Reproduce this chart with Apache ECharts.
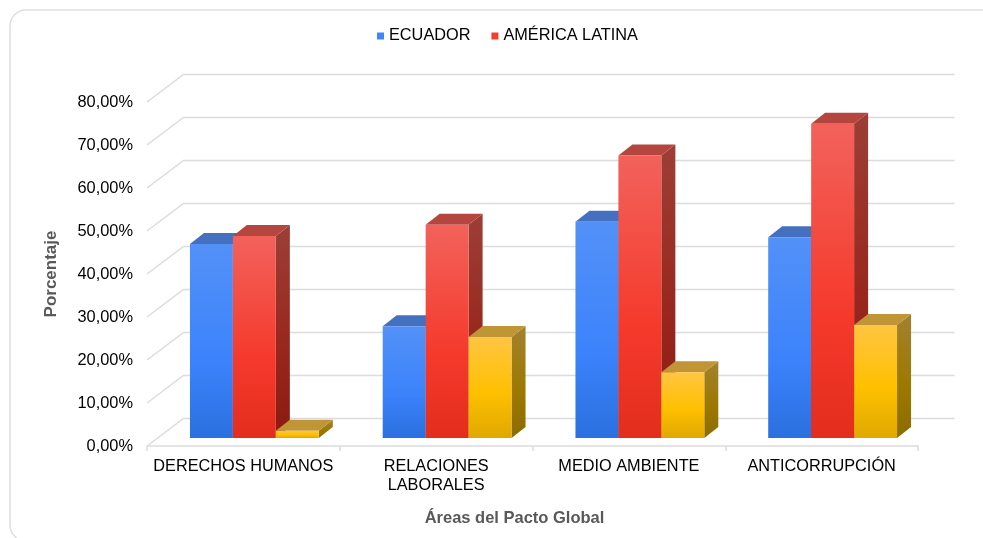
<!DOCTYPE html>
<html>
<head>
<meta charset="utf-8">
<style>html,body{margin:0;padding:0;background:#fff}#c{width:983px;height:538px}</style>
<script src="https://cdn.jsdelivr.net/npm/echarts@6/dist/echarts.min.js"></script>
</head>
<body>
<div id="c"></div>
<script>
const categories = ['DERECHOS HUMANOS', 'RELACIONES\nLABORALES', 'MEDIO AMBIENTE', 'ANTICORRUPCIÓN'];
const ecuador = [45.1, 26, 50.3, 46.7];
const americaLatina = [47, 49.6, 65.7, 73.1];
const tercera = [1.7, 23.5, 15.3, 26.3];
const yTicks = [0, 10, 20, 30, 40, 50, 60, 70, 80];

const WALL = [36.5, -27.5];  // depth of the chart floor
const SHIFT = [11, -8];      // bars stand inside the floor
const DEPTH = [14, -11];     // depth of each bar
const BAR_SHARE = 0.2228;

function lg(stops) {
  return {type: 'linear', x: 0, y: 0, x2: 0, y2: 1,
    colorStops: stops.map(c => ({offset: c[0], color: c[1]}))};
}
const skins = [
  {legend: '#3f86f7',
   front: lg([[0, '#5391f8'], [0.62, '#3b82fb'], [1, '#2a70df']]),
   top: '#4470bf', side: lg([[0, '#34599a'], [1, '#1f4a90']])},
  {legend: '#f43d30',
   front: lg([[0, '#f2625b'], [0.6, '#f53a2c'], [1, '#e32d1d']]),
   top: '#b4463f', side: lg([[0, '#9c3f36'], [0.6, '#98261c'], [1, '#8a1a12']])},
  {legend: '#ffc000',
   front: lg([[0, '#ffc542'], [0.55, '#ffc000'], [1, '#e0a800']]),
   top: '#bf9535', side: lg([[0, '#a3812e'], [0.6, '#9c7800'], [1, '#8c6c00']])}
];

function barRenderer(idx) {
  return function (params, api) {
    const band = api.size([1, 0])[0];
    const w = band * BAR_SHARE;
    const p = api.coord([api.value(0), api.value(1)]);
    const b = api.coord([api.value(0), 0]);
    const x0 = p[0] + SHIFT[0] + (idx - 1.5) * w;
    const x1 = x0 + w;
    const yT = p[1] + SHIFT[1];
    const yB = b[1] + SHIFT[1];
    const dx = DEPTH[0], dy = DEPTH[1];
    const s = skins[idx];
    return {type: 'group', children: [
      {type: 'polygon', shape: {points: [[x1, yT], [x1 + dx, yT + dy], [x1 + dx, yB + dy], [x1, yB]]},
       style: {fill: s.side}},
      {type: 'polygon', shape: {points: [[x0, yT], [x0 + dx, yT + dy], [x1 + dx, yT + dy], [x1, yT]]},
       style: {fill: s.top}},
      {type: 'rect', shape: {x: x0, y: yT, width: w, height: yB - yT},
       style: {fill: s.front}}
    ]};
  };
}

function wallRenderer(params, api) {
  const c = params.coordSys;
  const y = api.coord([0, api.value(1)])[1];
  return {type: 'polyline',
    shape: {points: [[c.x, y], [c.x + WALL[0], y + WALL[1]], [c.x + c.width + WALL[0], y + WALL[1]]]},
    style: {fill: null, stroke: '#dcdcdc', lineWidth: 1.5}};
}

const FONT = '"Liberation Sans", Arial, sans-serif';
const chart = echarts.init(document.getElementById('c'), null, {renderer: 'canvas'});
chart.setOption({
  animation: false,
  backgroundColor: '#fff',
  graphic: [{
    type: 'rect', z: -10, silent: true,
    shape: {x: 10, y: 10, width: 1030, height: 531, r: 16},
    style: {fill: '#fff', stroke: '#dedede', lineWidth: 1.5}
  }],
  legend: {
    data: ['ECUADOR', 'AMÉRICA LATINA'],
    top: 23, left: 372,
    icon: 'rect', itemWidth: 7, itemHeight: 7, itemGap: 21,
    textStyle: {fontFamily: FONT, fontSize: 16.3, color: '#000'}
  },
  grid: {left: 147, right: 65, top: 102, bottom: 92},
  xAxis: {
    type: 'category', data: categories,
    name: 'Áreas del Pacto Global', nameLocation: 'middle', nameGap: 64,
    nameTextStyle: {fontFamily: FONT, fontSize: 16.5, fontWeight: 'bold', color: '#595959', padding: [0, 36, 0, 0]},
    axisLine: {show: true, lineStyle: {color: '#dcdcdc', width: 1.5}},
    axisTick: {show: true, length: 5, lineStyle: {color: '#dcdcdc', width: 1.5}},
    axisLabel: {interval: 0, margin: 11, fontFamily: FONT, fontSize: 16.3, color: '#000', lineHeight: 19}
  },
  yAxis: {
    type: 'value', min: 0, max: 80, interval: 10,
    name: 'Porcentaje', nameLocation: 'middle', nameGap: 87, nameRotate: 90,
    nameTextStyle: {fontFamily: FONT, fontSize: 17, fontWeight: 'bold', color: '#595959'},
    axisLine: {show: false}, axisTick: {show: false}, splitLine: {show: false},
    axisLabel: {margin: 14, fontFamily: FONT, fontSize: 16.4, color: '#000',
      formatter: v => v.toFixed(2).replace('.', ',') + '%'}
  },
  series: [
    {type: 'custom', name: 'pared', silent: true, renderItem: wallRenderer, z: 1,
     data: yTicks.map(v => [0, v]), encode: {x: 0, y: 1}},
    {type: 'custom', name: 'ECUADOR', renderItem: barRenderer(0), z: 2,
     itemStyle: {color: skins[0].legend}, data: ecuador.map((v, i) => [i, v]), encode: {x: 0, y: 1}},
    {type: 'custom', name: 'AMÉRICA LATINA', renderItem: barRenderer(1), z: 3,
     itemStyle: {color: skins[1].legend}, data: americaLatina.map((v, i) => [i, v]), encode: {x: 0, y: 1}},
    {type: 'custom', name: 'OTROS', renderItem: barRenderer(2), z: 4,
     itemStyle: {color: skins[2].legend}, data: tercera.map((v, i) => [i, v]), encode: {x: 0, y: 1}}
  ]
});
</script>
</body>
</html>
